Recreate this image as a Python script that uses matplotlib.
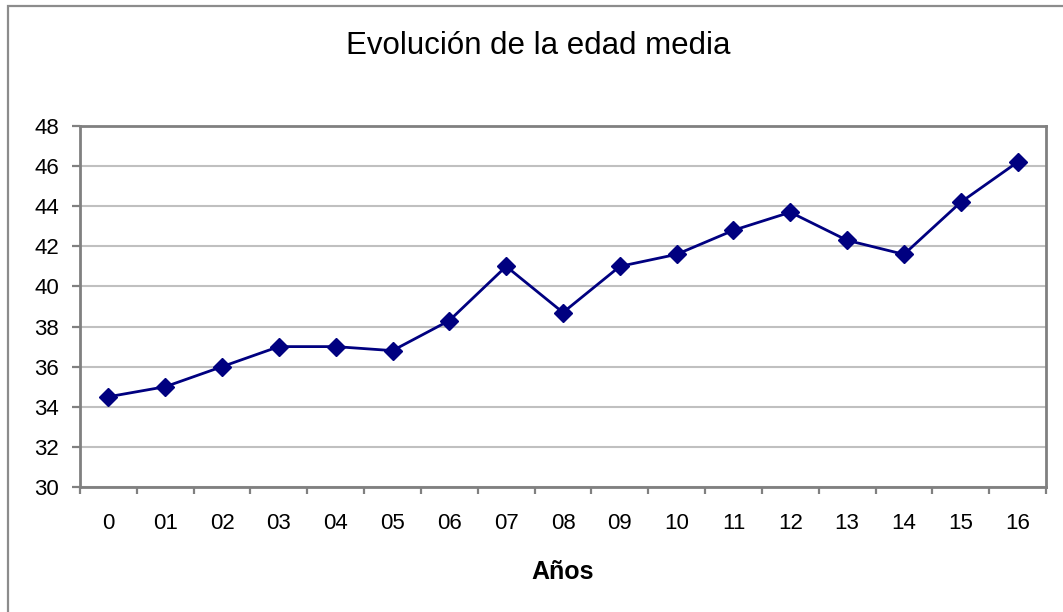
import matplotlib

matplotlib.use("Agg")

import matplotlib.pyplot as plt
from matplotlib.patches import Rectangle

# data
years = ["0", "01", "02", "03", "04", "05", "06", "07", "08",
         "09", "10", "11", "12", "13", "14", "15", "16"]
edad_media = [34.5, 35.0, 36.0, 37.0, 37.0, 36.8, 38.3, 41.0, 38.7,
              41.0, 41.6, 42.8, 43.7, 42.3, 41.6, 44.2, 46.2]
y_ticks = [30, 32, 34, 36, 38, 40, 42, 44, 46, 48]

plt.rcParams["font.family"] = ["Liberation Sans", "DejaVu Sans"]

W, H = 1063, 612
fig = plt.figure(figsize=(W / 100, H / 100), dpi=100)

# outer chart frame (cut off at right/bottom like the reference)
fig.patches.append(Rectangle((8 / W, -0.1), 1.2, 1.1 - 6 / H, transform=fig.transFigure,
                             fill=False, edgecolor="#8c8c8c", linewidth=1.6))

left, right, top, bottom = 80, 1046, 126, 487
ax = fig.add_axes([left / W, 1 - bottom / H, (right - left) / W, (bottom - top) / H])

x = list(range(len(years)))
ax.plot(x, edad_media, color="#000080", linewidth=2.0, marker="D",
        markersize=9.5, zorder=3)

ax.set_xlim(-0.5, len(years) - 0.5)
ax.set_ylim(30, 48)
ax.set_yticks(y_ticks)
ax.set_yticklabels([str(v) for v in y_ticks], fontsize=16)
ax.set_xticks(x)
ax.set_xticklabels(years, fontsize=16)
ax.set_xticks([i - 0.5 for i in range(len(years) + 1)], minor=True)

ax.tick_params(axis="x", which="major", length=0, pad=19)
ax.tick_params(axis="x", which="minor", length=5, width=1.6, color="#808080")
ax.tick_params(axis="y", length=6, width=1.6, color="#808080", pad=9)

ax.grid(axis="y", color="#c0c0c0", linewidth=1.5)
ax.set_axisbelow(True)
for s in ax.spines.values():
    s.set_color("#808080")
    s.set_linewidth(2)

fig.text(563 / W, 1 - 572 / H, "Años", fontsize=18, fontweight="bold",
         ha="center", va="center")
fig.text(538 / W, 1 - 46 / H, "Evolución de la edad media", fontsize=22.5,
         ha="center", va="center")

fig.savefig("out.png", dpi=100)
